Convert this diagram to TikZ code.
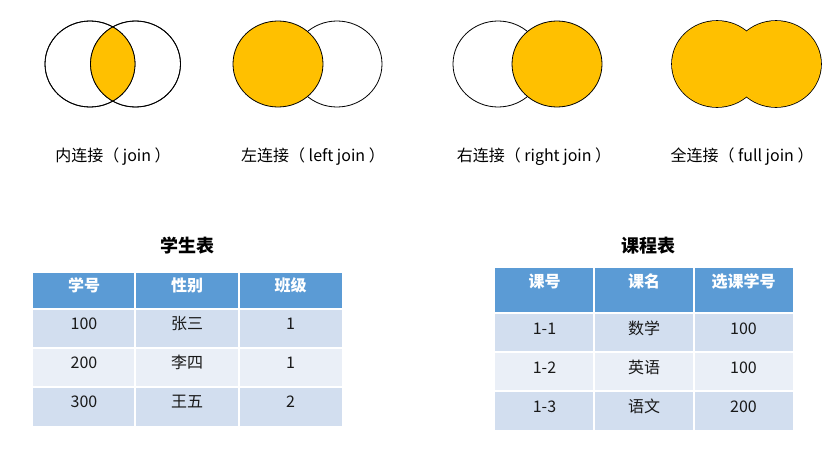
\documentclass[tikz,border=0pt]{standalone}
\usepackage{fontspec}
\setmainfont{Noto Sans CJK SC}
\usetikzlibrary{positioning}
\definecolor{JoinGold}{HTML}{FFC000}
\definecolor{HeadBlue}{HTML}{5B9BD5}
\definecolor{RowDark}{HTML}{D2DEEF}
\definecolor{RowLight}{HTML}{EAEFF7}

\begin{document}
\begin{tikzpicture}[x=1pt, y=-1pt,
		venn/.style={draw=black, line width=0.8pt},
		joinfill/.style={fill=JoinGold},
		caption/.style={font=\fontsize{16}{19}\selectfont, text=black},
		tabletitle/.style={font=\fontsize{18}{22}\selectfont\bfseries},
		headtext/.style={font=\fontsize{16}{19}\selectfont\bfseries, text=white},
		celltext/.style={font=\fontsize{16}{19}\selectfont, text=black!90},
		gridline/.style={draw=white, line width=1.2pt}
		]
		\useasboundingbox (0,0) rectangle (840,469);
		% inner join
		\draw[venn] (90,64) ellipse [x radius=45, y radius=43];
		\draw[venn] (135.5,64) ellipse [x radius=45, y radius=43];
		\begin{scope}
			\clip (90,64) ellipse [x radius=45, y radius=43];
			\fill[joinfill] (135.5,64) ellipse [x radius=45, y radius=43];
		\end{scope}
		\draw[venn] (90,64) ellipse [x radius=45, y radius=43];
		\draw[venn] (135.5,64) ellipse [x radius=45, y radius=43];
		% left join
		\draw[venn] (337,64) ellipse [x radius=45, y radius=43];
		\filldraw[venn, joinfill] (278,64) ellipse [x radius=45, y radius=43];
		% right join
		\draw[venn] (498,64) ellipse [x radius=45, y radius=43];
		\filldraw[venn, joinfill] (557,64) ellipse [x radius=45, y radius=43];
		% full join
		\draw[venn, line width=1.6pt] (717,64) ellipse [x radius=45, y radius=43];
		\draw[venn, line width=1.6pt] (776,64) ellipse [x radius=45, y radius=43];
		\fill[joinfill] (717,64) ellipse [x radius=45, y radius=43];
		\fill[joinfill] (776,64) ellipse [x radius=45, y radius=43];

		\node[caption] (cap1) at (113,157) {内连接（ join ）};
		\node[caption] (cap2) at (313,157) {左连接（ left join ）};
		\node[caption] (cap3) at (534,157) {右连接（ right join ）};
		\node[caption] (cap4) at (742,157) {全连接（ full join ）};

		% student table
		\node[tabletitle] (stuTitle) at (187,246) {学生表};
		\fill[HeadBlue] (33,273) rectangle (342,309);
		\foreach \num/\name/\cls [count=\r] in {100/张三/1, 200/李四/1, 300/王五/2}{
			\pgfmathsetmacro{\rowtop}{309+39*(\r-1)}
			\ifodd\r\def\rowcol{RowDark}\else\def\rowcol{RowLight}\fi
			\fill[\rowcol] (33,\rowtop) rectangle (342,\rowtop+39);
			\draw[gridline] (33,\rowtop) -- (342,\rowtop);
			\node[celltext] (stuNum\r) at (84,\rowtop+14.5) {\num};
			\node[celltext] (stuName\r) at (187,\rowtop+14.5) {\name};
			\node[celltext] (stuClass\r) at (290.5,\rowtop+14.5) {\cls};
		}
		\draw[gridline] (135,273) -- (135,426);
		\draw[gridline] (239,273) -- (239,426);
		\draw[gridline, line width=2.5pt] (33,309) -- (342,309);
		\node[headtext] (stuH1) at (84,285) {学号};
		\node[headtext] (stuH2) at (187,285) {性别};
		\node[headtext] (stuH3) at (290.5,285) {班级};

		% course table
		\node[tabletitle] (crsTitle) at (648,246) {课程表};
		\fill[HeadBlue] (495,268) rectangle (793,313);
		\foreach \code/\subj/\stu [count=\r] in {1-1/数学/100, 1-2/英语/100, 1-3/语文/200}{
			\pgfmathsetmacro{\rowtop}{313+39*(\r-1)}
			\ifodd\r\def\rowcol{RowDark}\else\def\rowcol{RowLight}\fi
			\fill[\rowcol] (495,\rowtop) rectangle (793,\rowtop+39);
			\draw[gridline] (495,\rowtop) -- (793,\rowtop);
			\node[celltext] (crsCode\r) at (544.5,\rowtop+15.5) {\code};
			\node[celltext] (crsSubj\r) at (644,\rowtop+15.5) {\subj};
			\node[celltext] (crsStu\r) at (743.5,\rowtop+15.5) {\stu};
		}
		\draw[gridline] (594,268) -- (594,430);
		\draw[gridline] (694,268) -- (694,430);
		\draw[gridline, line width=2.5pt] (495,313) -- (793,313);
		\node[headtext] (crsH1) at (544.5,281) {课号};
		\node[headtext] (crsH2) at (644,281) {课名};
		\node[headtext] (crsH3) at (743.5,281) {选课学号};
	\end{tikzpicture}
\end{document}
